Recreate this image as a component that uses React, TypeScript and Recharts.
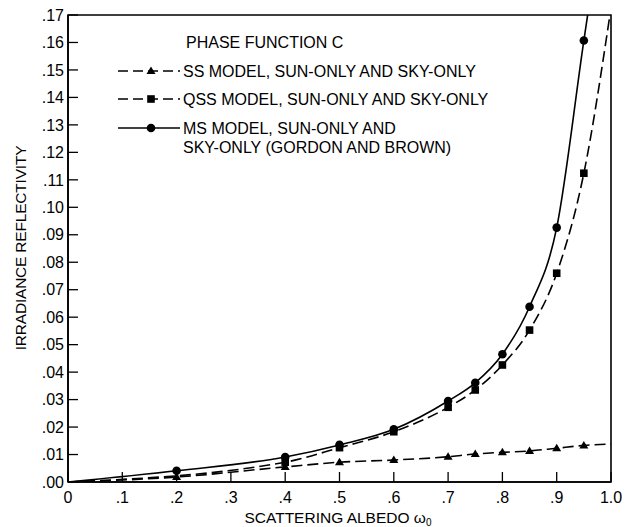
import React from 'react';
import { LineChart, Line, XAxis, YAxis, ReferenceArea } from 'recharts';

// Tick values
const xTicks = [0, 0.1, 0.2, 0.3, 0.4, 0.5, 0.6, 0.7, 0.8, 0.9, 1.0];
const yTicks = [0, 0.01, 0.02, 0.03, 0.04, 0.05, 0.06, 0.07, 0.08, 0.09, 0.1, 0.11, 0.12, 0.13, 0.14, 0.15, 0.16, 0.17];

// SS model (triangles, dashed)
const ssAlbedo = [0, 0.2, 0.4, 0.5, 0.6, 0.7, 0.75, 0.8, 0.85, 0.9, 0.95, 1.0];
const ssValue = [0, 0.0018, 0.0055, 0.0072, 0.008, 0.0092, 0.0102, 0.0108, 0.0113, 0.0123, 0.0133, 0.0138];
const ssMarker = [false, true, true, true, true, true, true, true, true, true, true, false];

// QSS model (squares, dashed)
const qssAlbedo = [0, 0.4, 0.5, 0.6, 0.7, 0.75, 0.8, 0.85, 0.9, 0.95, 0.998];
const qssValue = [0, 0.0072, 0.0125, 0.0183, 0.0272, 0.0335, 0.0426, 0.0553, 0.076, 0.1124, 0.17];
const qssMarker = [false, true, true, true, true, true, true, true, true, true, false];

// MS model (circles, solid)
const msAlbedo = [0, 0.2, 0.4, 0.5, 0.6, 0.7, 0.75, 0.8, 0.85, 0.9, 0.95, 0.957];
const msValue = [0, 0.0041, 0.0091, 0.0135, 0.0192, 0.0295, 0.0361, 0.0465, 0.0638, 0.0926, 0.1607, 0.17];
const msMarker = [false, true, true, true, true, true, true, true, true, true, true, false];

const legendTitle = 'PHASE FUNCTION C';
const legendSS = 'SS MODEL, SUN-ONLY AND SKY-ONLY';
const legendQSS = 'QSS MODEL, SUN-ONLY AND SKY-ONLY';
const legendMS1 = 'MS MODEL, SUN-ONLY AND';
const legendMS2 = 'SKY-ONLY (GORDON AND BROWN)';

const build = (xs: number[], ys: number[], ms: boolean[]) =>
  xs.map((x, i) => ({ x, y: ys[i], m: ms[i] }));

const ssData = build(ssAlbedo, ssValue, ssMarker);
const qssData = build(qssAlbedo, qssValue, qssMarker);
const msData = build(msAlbedo, msValue, msMarker);

const FONT = '"Liberation Sans", Arial, Helvetica, sans-serif';

const Tri = ({ cx, cy }: { cx: number; cy: number }) => (
  <polygon points={`${cx},${cy - 4.5} ${cx + 4.5},${cy + 3} ${cx - 4.5},${cy + 3}`} fill="#000" />
);
const Sq = ({ cx, cy }: { cx: number; cy: number }) => (
  <rect x={cx - 3.8} y={cy - 3.8} width={7.6} height={7.6} fill="#000" />
);
const Circ = ({ cx, cy }: { cx: number; cy: number }) => <circle cx={cx} cy={cy} r={4.3} fill="#000" />;

const makeDot = (kind: 'tri' | 'sq' | 'circ') => (props: any) => {
  const { cx, cy, payload, index } = props;
  const key = `${kind}-${index}`;
  if (!payload || !payload.m || cx == null || cy == null) return <g key={key} />;
  if (kind === 'tri') return <g key={key}><Tri cx={cx} cy={cy} /></g>;
  if (kind === 'sq') return <g key={key}><Sq cx={cx} cy={cy} /></g>;
  return <g key={key}><Circ cx={cx} cy={cy} /></g>;
};

const fmtX = (v: number) => (v === 0 ? '0' : v >= 0.999 ? '1.0' : '.' + Math.round(v * 10));
const fmtY = (v: number) => '.' + String(Math.round(v * 100)).padStart(2, '0');

const DASH = '11 5';

export default function App() {
  return (
    <div style={{ position: 'absolute', left: 0, top: 0, width: 629, height: 527, background: '#fff', fontFamily: FONT }}>
      <LineChart width={629} height={527} margin={{ top: 15, right: 18, bottom: 0, left: 0 }}>
        <XAxis
          type="number"
          dataKey="x"
          domain={[0, 1]}
          ticks={xTicks}
          tickFormatter={fmtX}
          height={45}
          tickSize={-10}
          tickMargin={20}
          axisLine={{ stroke: '#000', strokeWidth: 1.6 }}
          tickLine={{ stroke: '#000', strokeWidth: 1.3 }}
          tick={{ fill: '#000', fontSize: 16, fontFamily: FONT }}
          allowDataOverflow
          label={{
            content: () => (
              <text x={338} y={523} textAnchor="middle" fontSize={15.5} fontFamily={FONT} fill="#000">
                SCATTERING ALBEDO ω<tspan fontSize={10} dy={3}>0</tspan>
              </text>
            ),
          }}
        />
        <YAxis
          type="number"
          domain={[0, 0.17]}
          ticks={yTicks}
          tickFormatter={fmtY}
          width={68}
          tickSize={-10}
          tickMargin={14}
          interval={0}
          axisLine={{ stroke: '#000', strokeWidth: 1.6 }}
          tickLine={{ stroke: '#000', strokeWidth: 1.3 }}
          tick={{ fill: '#000', fontSize: 16, fontFamily: FONT }}
          allowDataOverflow
          label={{
            content: () => (
              <text
                x={20}
                y={248}
                transform="rotate(-90 20 248)"
                textAnchor="middle"
                dominantBaseline="central"
                fontSize={15.5}
                letterSpacing={-0.2}
                fontFamily={FONT}
                fill="#000"
              >
                IRRADIANCE REFLECTIVITY
              </text>
            ),
          }}
        />
        <ReferenceArea x1={0} x2={1} y1={0} y2={0.17} fill="none" stroke="#000" strokeWidth={1.6} ifOverflow="visible" />
        <Line
          data={ssData}
          dataKey="y"
          type="monotone"
          stroke="#000"
          strokeWidth={1.6}
          strokeDasharray={DASH}
          dot={makeDot('tri')}
          activeDot={false}
          isAnimationActive={false}
        />
        <Line
          data={qssData}
          dataKey="y"
          type="monotone"
          stroke="#000"
          strokeWidth={1.6}
          strokeDasharray={DASH}
          dot={makeDot('sq')}
          activeDot={false}
          isAnimationActive={false}
        />
        <Line
          data={msData}
          dataKey="y"
          type="monotone"
          stroke="#000"
          strokeWidth={1.6}
          dot={makeDot('circ')}
          activeDot={false}
          isAnimationActive={false}
        />
      </LineChart>
      <svg
        width={629}
        height={527}
        style={{ position: 'absolute', left: 0, top: 0, pointerEvents: 'none' }}
      >
        <g fontFamily={FONT} fontSize={16} fill="#000">
          <text x={186} y={42} dominantBaseline="central">{legendTitle}</text>
          <line x1={118} y1={71} x2={180} y2={71} stroke="#000" strokeWidth={1.6} strokeDasharray="10 5" />
          <Tri cx={151} cy={71} />
          <text x={183} y={71} dominantBaseline="central">{legendSS}</text>
          <line x1={118} y1={99} x2={180} y2={99} stroke="#000" strokeWidth={1.6} strokeDasharray="10 5" />
          <Sq cx={151} cy={99} />
          <text x={183} y={99} dominantBaseline="central">{legendQSS}</text>
          <line x1={118} y1={128} x2={180} y2={128} stroke="#000" strokeWidth={1.6} />
          <Circ cx={151} cy={128} />
          <text x={183} y={128} dominantBaseline="central">{legendMS1}</text>
          <text x={183} y={147} dominantBaseline="central">{legendMS2}</text>
        </g>
      </svg>
    </div>
  );
}
